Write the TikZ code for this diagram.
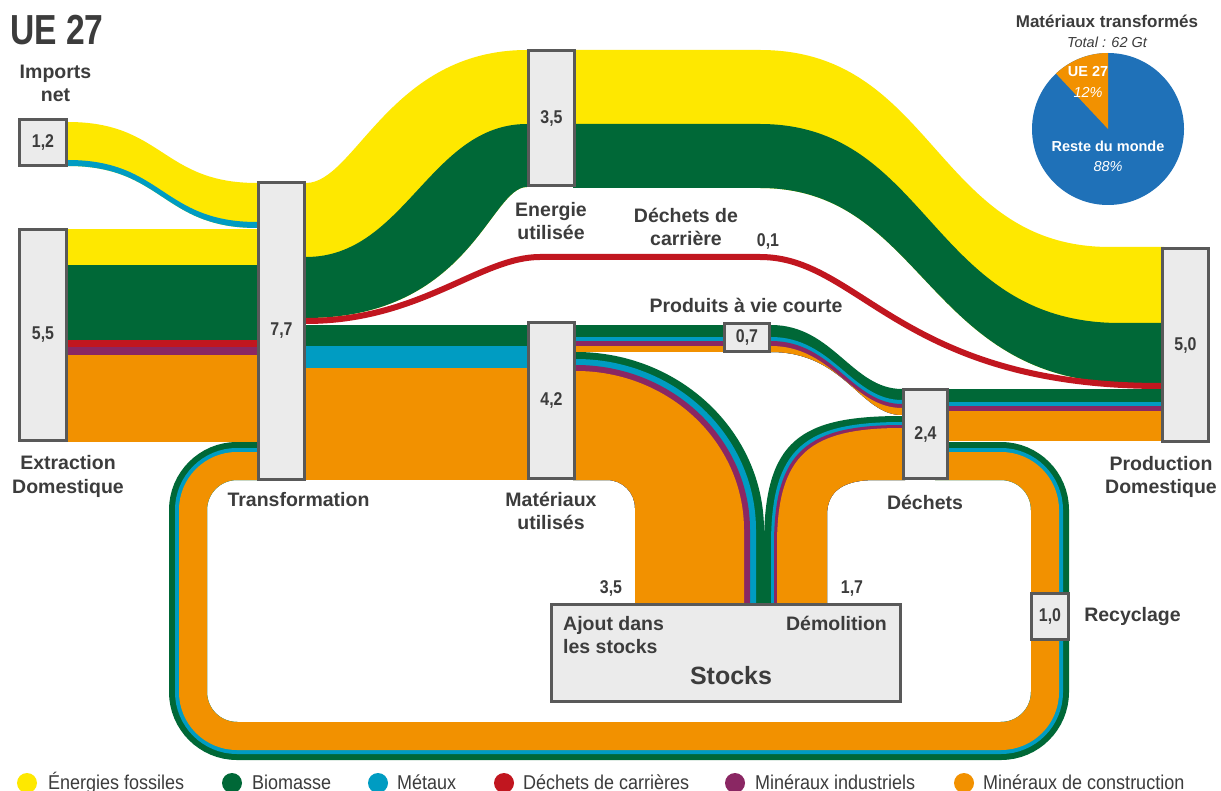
\documentclass[tikz,border=0pt]{standalone}
\usepackage{fontspec}
\usepackage{graphicx}
\setmainfont{Liberation Sans}
\definecolor{cY}{HTML}{FEE800}
\definecolor{cG}{HTML}{006837}
\definecolor{cB}{HTML}{009CC2}
\definecolor{cR}{HTML}{C1161F}
\definecolor{cP}{HTML}{8A2763}
\definecolor{cO}{HTML}{F29100}
\definecolor{boxf}{HTML}{EBEBEB}
\definecolor{boxd}{HTML}{595959}
\definecolor{txt}{HTML}{3C3C3C}
\definecolor{pieB}{HTML}{1F71B8}
\newcommand\cnd[1]{\scalebox{0.86}[1]{#1}}
\newcommand\pvcband[3]{\fill[#1] (768,#2) -- (771,#2) .. controls (833,#2) and (852,#3) .. (902,#3) -- (905,#3) -- (905,415) -- (902,415) .. controls (860,415) and (845,352) .. (771,352) -- (768,352) -- cycle;}
\newcommand\ajoutband[5]{\fill[#1] (573,#2) -- (576,#2) .. controls (#4,#2) and (#3,#5) .. (#3,530) -- (#3,606) -- (635,606) -- (635,508) .. controls (635,492.5) and (622.5,480) .. (607,480) -- (573,480) -- cycle;}
\newcommand\demolband[5]{\fill[#1] (#2,606) -- (#2,545) .. controls (#2,#4) and (#5,#3) .. (902,#3) -- (905,#3) -- (905,480) -- (875,480) .. controls (845,480) and (827,490) .. (827,515) -- (827,606) -- cycle;}
\newcommand\recloop[4]{\draw[#1, line width=#2, rounded corners=#3] (270,442+#4) -- (169+#4,442+#4) -- (169+#4,760-#4) -- (1069-#4,760-#4) -- (1069-#4,442+#4) -- (935,442+#4);}
\begin{document}
\begin{tikzpicture}[x=1pt,y=-1pt,
  box/.style={draw=boxd, fill=boxf, line width=3pt, inner sep=0pt, text=txt, font=\bfseries\fontsize{18.5}{20}\selectfont},
  lab/.style={text=txt, align=center, inner sep=0pt, font=\bfseries\fontsize{19.5}{23.5}\selectfont},
  num/.style={text=txt, inner sep=0pt, font=\bfseries\fontsize{18.5}{20}\selectfont},
  leg/.style={text=txt, inner sep=0pt, anchor=base west, font=\fontsize{20}{22}\selectfont},
  piet/.style={text=white, inner sep=0pt, anchor=base, font=\bfseries\fontsize{14.5}{17}\selectfont},
  piei/.style={text=white, inner sep=0pt, anchor=base, font=\itshape\fontsize{14.5}{17}\selectfont}]
\useasboundingbox (0,0) rectangle (1221,791);
\fill[white] (0,0) rectangle (1221,791);

% recycling loop
\recloop{cG}{38pt}{49pt}{19}
\recloop{cB}{32pt}{46pt}{22}
\recloop{cO}{28pt}{44pt}{24}

% Imports -> Transformation
\fill[cY] (66,122) -- (68,122) .. controls (163,122) and (162,183) .. (257,183) -- (260,183) -- (260,228) -- (257,228) .. controls (162,228) and (163,166) .. (68,166) -- (66,166) -- cycle;
\fill[cB] (66,160) -- (68,160) .. controls (163,160) and (162,222) .. (257,222) -- (260,222) -- (260,228) -- (257,228) .. controls (162,228) and (163,166) .. (68,166) -- (66,166) -- cycle;

% Extraction -> Transformation
\fill[cY] (66,229) rectangle (260,265);
\fill[cG] (66,265) rectangle (260,340);
\fill[cR] (66,340) rectangle (260,347);
\fill[cP] (66,347) rectangle (260,355);
\fill[cO] (66,355) rectangle (260,442);

% Transformation -> Energie
\fill[cY] (303,183) -- (306,183) .. controls (355,183) and (390,50) .. (527,50) -- (530,50) -- (530,187) -- (527,187) .. controls (490,187) and (470,318) .. (306,318) -- (303,318) -- cycle;
\fill[cG] (303,257) -- (306,257) .. controls (405,257) and (430,124) .. (527,124) -- (530,124) -- (530,187) -- (527,187) .. controls (490,187) and (470,318) .. (306,318) -- (303,318) -- cycle;

% Transformation -> Materiaux
\fill[cG] (303,325) rectangle (530,346);
\fill[cB] (303,346) rectangle (530,368);
\fill[cO] (303,368) rectangle (530,480);

% Energie -> Production
\fill[cY] (573,50) -- (760,50) .. controls (935,50) and (935,247) .. (1110,247) -- (1164,247) -- (1164,383) -- (1130,383) .. controls (925,383) and (925,188) .. (760,188) -- (573,188) -- cycle;
\fill[cG] (573,124) -- (760,124) .. controls (930,124) and (930,323) .. (1120,323) -- (1164,323) -- (1164,383) -- (1130,383) .. controls (925,383) and (925,188) .. (760,188) -- (573,188) -- cycle;

% Dechets de carriere
\draw[cR, line width=6pt] (303,321) -- (306,321) .. controls (420,321) and (480,257) .. (540,257) -- (760,257) .. controls (860,257) and (900,386) .. (1161,386) -- (1164,386);

% Materiaux -> Produits
\fill[cG] (573,325) rectangle (726,337);
\fill[cB] (573,337) rectangle (726,341);
\fill[cP] (573,341) rectangle (726,346);
\fill[cO] (573,346) rectangle (726,352);

% Produits -> Dechets
\pvcband{cG}{325}{389}
\pvcband{cB}{337}{400}
\pvcband{cP}{341}{404}
\pvcband{cO}{346}{408}

% Materiaux -> Stocks
\ajoutband{cG}{352}{764}{679.8}{431.7}
\ajoutband{cB}{359}{756}{675.4}{435.6}
\ajoutband{cP}{365}{750}{672.1}{438.9}
\ajoutband{cO}{371}{744}{668.8}{442.2}

% Stocks -> Dechets
\demolband{cG}{764}{416}{440}{800}
\demolband{cB}{771}{422}{447}{805}
\demolband{cP}{774}{425}{450}{808}
\demolband{cO}{777}{428}{453}{811}

% Dechets -> Production
\fill[cG] (946,389) rectangle (1164,402);
\fill[cB] (946,402) rectangle (1164,406);
\fill[cP] (946,406) rectangle (1164,411);
\fill[cO] (946,411) rectangle (1164,441);

% boxes
\node[box, minimum width=47pt, minimum height=46pt] (imp) at (43,142.5) {\cnd{1,2}};
\node[box, minimum width=47pt, minimum height=211pt] (ext) at (43,335) {\cnd{5,5}};
\node[box, minimum width=46pt, minimum height=296pt] (trans) at (281.5,331) {\cnd{7,7}};
\node[box, minimum width=46pt, minimum height=135pt] (ener) at (551.5,118) {\cnd{3,5}};
\node[box, minimum width=46pt, minimum height=156pt] (mat) at (551.5,400.5) {\cnd{4,2}};
\node[box, minimum width=45pt, minimum height=28pt] (pvc) at (747,337.5) {\cnd{0,7}};
\node[box, minimum width=44pt, minimum height=89pt] (dech) at (925.5,434) {\cnd{2,4}};
\node[box, minimum width=46pt, minimum height=193pt] (pd) at (1185.5,345) {\cnd{5,0}};
\node[box, minimum width=37pt, minimum height=46pt] (rec) at (1050,616.5) {\cnd{1,0}};
\node[box, minimum width=349pt, minimum height=97pt] (stk) at (726,653) {};

% labels
\node[anchor=base west, text=txt, inner sep=0pt, font=\bfseries\fontsize{42}{46}\selectfont] (title) at (10,45) {\scalebox{0.8}[1]{UE 27}};
\node[lab] (limp) at (55.5,83.5) {Imports\\net};
\node[lab] (lext) at (68,476.5) {Extraction\\Domestique};
\node[lab, anchor=base] (ltrans) at (298.5,506) {Transformation};
\node[lab] (lener) at (551,221) {Energie\\utilisée};
\node[lab] (ldc) at (686,227) {Déchets de\\carrière};
\node[num, anchor=base] (v01) at (768,247) {\cnd{0,1}};
\node[lab, anchor=base] (lpvc) at (746,313) {Produits à vie courte};
\node[lab] (lmat) at (551,511) {Matériaux\\utilisés};
\node[num, anchor=base] (v35) at (611,593) {\cnd{3,5}};
\node[num, anchor=base] (v17) at (852,593) {\cnd{1,7}};
\node[lab, anchor=west, align=left] (lajout) at (563,635) {Ajout dans\\les stocks};
\node[lab, anchor=base] (ldemol) at (836.5,630) {Démolition};
\node[lab, anchor=base, font=\bfseries\fontsize{25}{28}\selectfont] (lstk) at (731,684) {Stocks};
\node[lab, anchor=base] (ldech) at (925,509) {Déchets};
\node[lab] (lpd) at (1161,477) {Production\\Domestique};
\node[lab, anchor=base] (lrec) at (1132.5,621) {Recyclage};

% pie
\coordinate (pc) at (1108,129);
\fill[pieB] (pc) circle[radius=76pt];
\fill[cO] (pc) -- ++(90:76pt) arc[start angle=90, end angle=133.2, radius=76pt] -- cycle;
\node[text=txt, inner sep=0pt, anchor=base, font=\bfseries\fontsize{17}{20}\selectfont] (pt1) at (1107,28) {Matériaux transformés};
\node[text=txt, inner sep=0pt, anchor=base, font=\itshape\fontsize{14.5}{17}\selectfont] (pt2) at (1107,48) {Total : 62 Gt};
\node[piet] (pue) at (1088,77) {UE 27};
\node[piei] (p12) at (1088,98) {12\%};
\node[piet] (prm) at (1108,152) {Reste du monde};
\node[piei] (p88) at (1108,172) {88\%};

% legend
\fill[cY] (27,783) circle[radius=10pt];
\fill[cG] (232,783) circle[radius=10pt];
\fill[cB] (378,783) circle[radius=10pt];
\fill[cR] (504,783) circle[radius=10pt];
\fill[cP] (735,783) circle[radius=10pt];
\fill[cO] (964,783) circle[radius=10pt];
\node[leg] (g1) at (48,789) {\scalebox{0.9}[1]{Énergies fossiles}};
\node[leg] (g2) at (252,789) {\scalebox{0.9}[1]{Biomasse}};
\node[leg] (g3) at (397,789) {\scalebox{0.9}[1]{Métaux}};
\node[leg] (g4) at (523,789) {\scalebox{0.9}[1]{Déchets de carrières}};
\node[leg] (g5) at (755,789) {\scalebox{0.9}[1]{Minéraux industriels}};
\node[leg] (g6) at (983,789) {\scalebox{0.9}[1]{Minéraux de construction}};
\end{tikzpicture}
\end{document}
